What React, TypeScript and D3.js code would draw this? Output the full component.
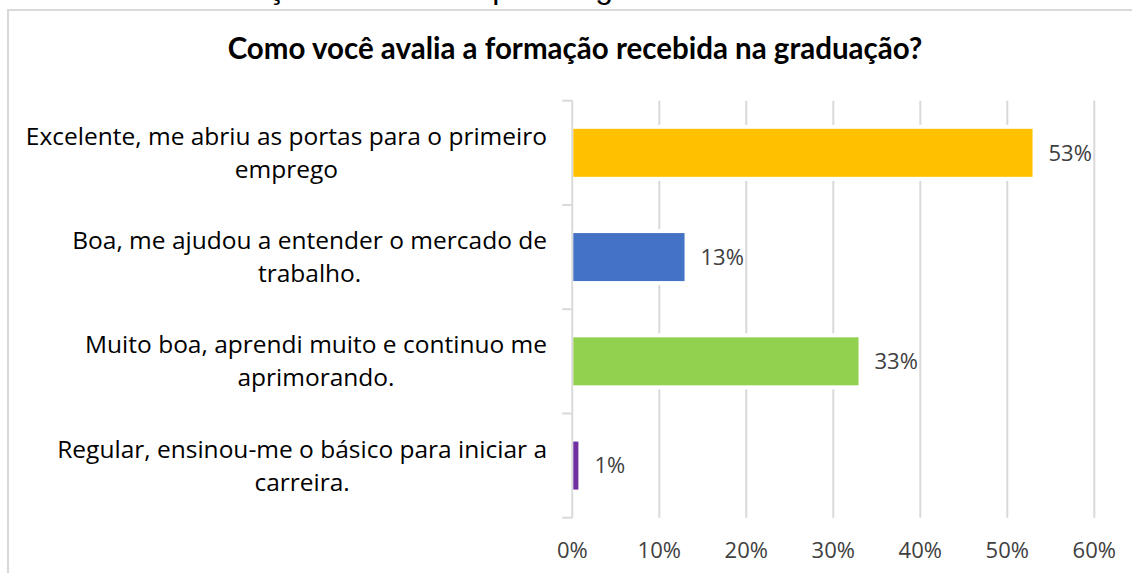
import { useRef, useEffect } from 'react';
import * as d3 from 'd3';

const caption = 'Gráfico 10 – Avaliação dos cursos pelos egressos';
const title = 'Como você avalia a formação recebida na graduação?';
const categories = [
  ['Excelente, me abriu as portas para o primeiro', 'emprego'],
  ['Boa, me ajudou a entender o mercado de', 'trabalho.'],
  ['Muito boa, aprendi muito e continuo me', 'aprimorando.'],
  ['Regular, ensinou-me o básico para iniciar a', 'carreira.'],
];
const values = [52.9, 12.9, 32.9, 0.7];
const valueLabels = ['53%', '13%', '33%', '1%'];
const colors = ['#FFC000', '#4472C4', '#92D050', '#7030A0'];
const ticks = [0, 10, 20, 30, 40, 50, 60];

const App = () => {
  const svgRef = useRef<SVGSVGElement>(null);

  useEffect(() => {
    const w = 1132;
    const h = 573;
    const svg = d3.select(svgRef.current).attr('width', w).attr('height', h);
    svg.selectAll('*').remove();
    const font = '"Open Sans", sans-serif';
    const grid = '#d9d9d9';

    // caption cut off at the top of the page
    svg.append('text')
      .attr('x', 0)
      .attr('y', -2)
      .style('font-family', 'Liberation Sans, Arial, sans-serif')
      .style('font-size', '32px')
      .attr('fill', '#000')
      .text(caption);

    // chart frame
    svg.append('rect')
      .attr('x', 8)
      .attr('y', 10)
      .attr('width', w)
      .attr('height', h)
      .attr('fill', 'none')
      .attr('stroke', grid)
      .attr('stroke-width', 2);

    // title
    svg.append('text')
      .attr('x', 575)
      .attr('y', 59)
      .attr('text-anchor', 'middle')
      .style('font-family', 'Lato, sans-serif')
      .style('font-weight', 'bold')
      .style('font-size', '29.5px')
      .attr('fill', '#000')
      .text(title);

    const left = 572.3;
    const right = 1094.3;
    const top = 100.7;
    const bottom = 517.7;
    const xScale = d3.scaleLinear().domain([0, 60]).range([left, right]);
    const yScale = d3.scaleBand<number>()
      .domain(d3.range(categories.length))
      .range([top, bottom]);
    const barPad = (yScale.bandwidth() - 48) / 2;

    // gridlines
    svg.append('g')
      .selectAll('line')
      .data(ticks.slice(1))
      .enter()
      .append('line')
        .attr('x1', d => xScale(d))
        .attr('x2', d => xScale(d))
        .attr('y1', top)
        .attr('y2', bottom)
        .attr('stroke', grid)
        .attr('stroke-width', 2);

    // category axis
    svg.append('line')
      .attr('x1', left).attr('x2', left)
      .attr('y1', top).attr('y2', bottom)
      .attr('stroke', grid).attr('stroke-width', 2);
    svg.append('g')
      .selectAll('line')
      .data(d3.range(categories.length + 1))
      .enter()
      .append('line')
        .attr('x1', left - 10)
        .attr('x2', left)
        .attr('y1', d => top + d * yScale.step())
        .attr('y2', d => top + d * yScale.step())
        .attr('stroke', grid)
        .attr('stroke-width', 2);

    // bars with white halo
    const bars = svg.append('g');
    values.forEach((v, i) => {
      const y = (yScale(i) as number) + barPad;
      bars.append('rect')
        .attr('x', left + 1)
        .attr('y', y - 4)
        .attr('width', xScale(v) - left + 3)
        .attr('height', 56)
        .attr('fill', '#fff');
      bars.append('rect')
        .attr('x', left + 1)
        .attr('y', y)
        .attr('width', xScale(v) - left - 1)
        .attr('height', 48)
        .attr('fill', colors[i]);
      bars.append('text')
        .attr('x', xScale(v) + 16)
        .attr('y', (yScale(i) as number) + yScale.bandwidth() / 2)
        .attr('dy', '0.35em')
        .style('font-family', font)
        .style('font-size', '22px')
        .attr('fill', '#404040')
        .text(valueLabels[i]);
    });

    // category labels: lines centred together, block right-aligned to the axis
    categories.forEach((lines, i) => {
      const g = svg.append('g');
      const cy = (yScale(i) as number) + yScale.bandwidth() / 2;
      const lh = 33;
      const texts = lines.map((l, j) => g.append('text')
        .attr('y', cy + (j - (lines.length - 1) / 2) * lh)
        .attr('dy', '0.35em')
        .attr('text-anchor', 'middle')
        .style('font-family', font)
        .style('font-size', '24.5px')
        .attr('fill', '#000')
        .text(l));
      const maxW = d3.max(texts, t => (t.node() as SVGTextElement).getComputedTextLength()) || 0;
      texts.forEach(t => t.attr('x', 547 - maxW / 2));
    });

    // value axis labels
    svg.append('g')
      .selectAll('text')
      .data(ticks)
      .enter()
      .append('text')
        .attr('x', d => xScale(d))
        .attr('y', 550)
        .attr('dy', '0.35em')
        .attr('text-anchor', 'middle')
        .style('font-family', font)
        .style('font-size', '22px')
        .attr('fill', '#404040')
        .text(d => d + '%');
  }, []);

  return (
    <div style={{ position: 'absolute', left: 0, top: 0, background: '#fff' }}>
      <svg ref={svgRef} style={{ display: 'block' }}></svg>
    </div>
  );
};

export default App;
